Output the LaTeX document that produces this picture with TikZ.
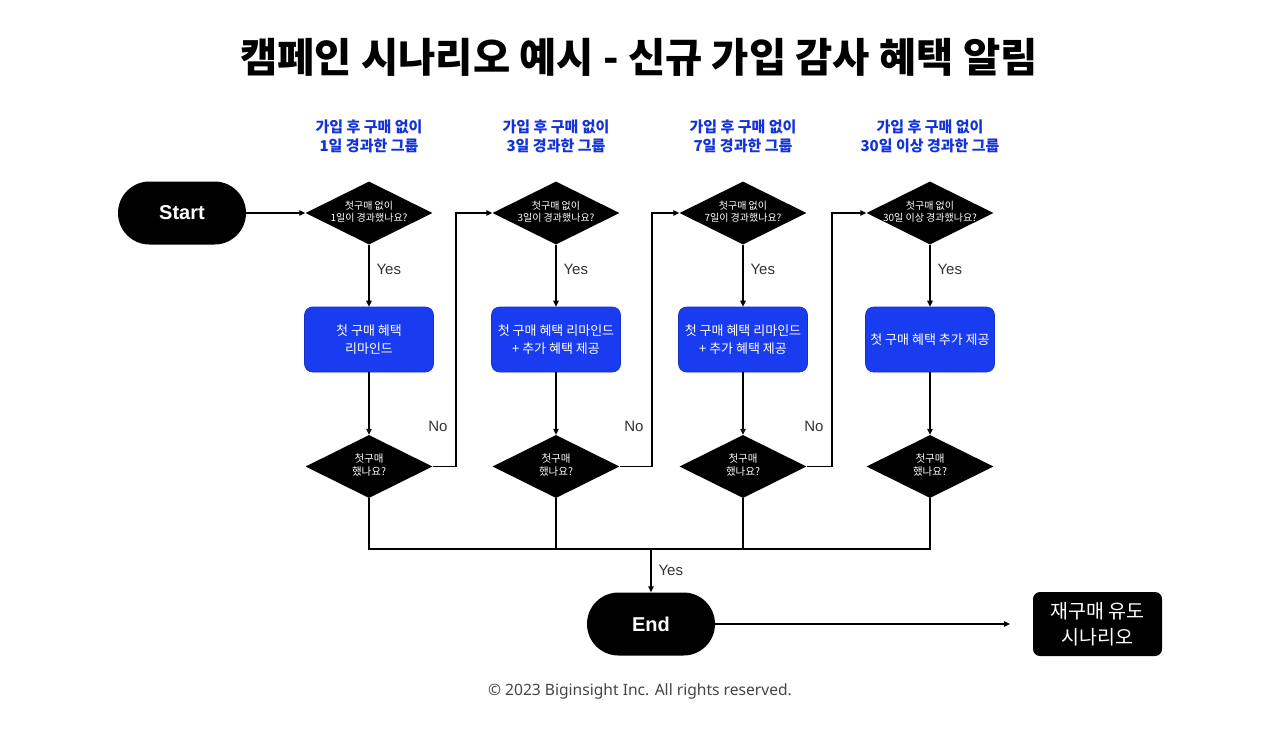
\documentclass[tikz,border=0pt]{standalone}
\usepackage{fontspec}
\setmainfont{Liberation Sans}
\newfontfamily\kr{Noto Sans CJK KR}
\newfontfamily\footfont{Noto Sans}
\usetikzlibrary{shapes.geometric,arrows.meta,calc}
\definecolor{boxblue}{HTML}{1A3CF0}
\definecolor{boxedge}{HTML}{1230C8}
\definecolor{labblue}{HTML}{1433D6}
\definecolor{lblgray}{HTML}{333333}
\definecolor{footgray}{HTML}{444444}
\newcommand\twoline[2]{\makebox[0pt]{\begin{tabular}{@{}c@{}}#1\\#2\end{tabular}}}
\tikzset{
  pill/.style={rectangle, rounded corners=31.5pt, fill=black, minimum width=128pt, minimum height=63pt, inner sep=0pt, text=white, font=\fontsize{20}{24}\selectfont\bfseries},
  qdia/.style={diamond, fill=black, minimum width=127pt, minimum height=63pt, inner sep=0pt, text=white, font=\kr\fontsize{10}{12}\selectfont},
  qdiab/.style={qdia, font=\kr\fontsize{10.5}{12}\selectfont},
  actbox/.style={rectangle, rounded corners=8pt, fill=boxblue, draw=boxedge, line width=0.6pt, minimum width=129pt, minimum height=65pt, inner sep=0pt, text=white, align=center, font=\kr\fontsize{13}{18}\selectfont},
  grplab/.style={text=labblue, align=center, font=\kr\bfseries\fontsize{15}{19}\selectfont},
  conn/.style={line width=1.1pt, draw=black},
  arr/.style={conn, -{Triangle[length=6pt,width=5.5pt]}},
  yn/.style={text=lblgray, font=\fontsize{15}{18}\selectfont, inner sep=0pt},
}
\begin{document}
\begin{tikzpicture}[x=1pt,y=-1pt]
\useasboundingbox (0,0) rectangle (1280,737);
\node[font=\kr\bfseries\fontsize{40.5}{46}\selectfont] (title) at (639,57) {캠페인 시나리오 예시 - 신규 가입 감사 혜택 알림};

\node[grplab] (g1) at (369,136) {가입 후 구매 없이\\1일 경과한 그룹};
\node[grplab] (g2) at (556,136) {가입 후 구매 없이\\3일 경과한 그룹};
\node[grplab] (g3) at (743,136) {가입 후 구매 없이\\7일 경과한 그룹};
\node[grplab] (g4) at (930,136) {가입 후 구매 없이\\30일 이상 경과한 그룹};

\node[pill] (start) at (182,213) {Start};

\node[qdia] (d1) at (369,213) {\twoline{첫구매 없이}{1일이 경과했나요?}};
\node[qdia] (d2) at (556,213) {\twoline{첫구매 없이}{3일이 경과했나요?}};
\node[qdia] (d3) at (743,213) {\twoline{첫구매 없이}{7일이 경과했나요?}};
\node[qdia] (d4) at (930,213) {\twoline{첫구매 없이}{30일 이상 경과했나요?}};

\node[actbox] (b1) at (369,339.5) {첫 구매 혜택\\리마인드};
\node[actbox] (b2) at (556,339.5) {첫 구매 혜택 리마인드\\+ 추가 혜택 제공};
\node[actbox] (b3) at (743,339.5) {첫 구매 혜택 리마인드\\+ 추가 혜택 제공};
\node[actbox] (b4) at (930,339.5) {첫 구매 혜택 추가 제공};

\node[qdiab] (q1) at (369,466.5) {\twoline{첫구매}{했나요?}};
\node[qdiab] (q2) at (556,466.5) {\twoline{첫구매}{했나요?}};
\node[qdiab] (q3) at (743,466.5) {\twoline{첫구매}{했나요?}};
\node[qdiab] (q4) at (930,466.5) {\twoline{첫구매}{했나요?}};

\node[pill] (end) at (651,624) {End};
\node[rectangle, rounded corners=7pt, fill=black, minimum width=129pt, minimum height=64pt, inner sep=0pt, text=white, align=center, font=\kr\fontsize{19.5}{26}\selectfont] (next) at (1097.5,624) {재구매 유도\\시나리오};

\node[text=footgray, font=\footfont\fontsize{15.6}{18}\selectfont] (foot) at (640,691) {© 2023 Biginsight Inc. All rights reserved.};

\coordinate (k1) at (456,0);
\coordinate (k2) at (652,0);
\coordinate (k3) at (832,0);
\coordinate (bus) at (651,549);
\coordinate (tgt) at (1010,624);

\draw[arr] (start) -- (d1.west);
\foreach \i in {1,2,3,4}{
  \draw[arr] (d\i.south) -- node[yn, pos=0.4, right=7pt] (yes\i) {Yes} (b\i.north);
  \draw[arr] (b\i.south) -- (q\i.north);
}
\draw[arr] (q1.east) -- (q1.east -| k1) -- node[yn, pos=0.16, left=8pt] (no1) {No} (k1 |- d2.west) -- (d2.west);
\draw[arr] (q2.east) -- (q2.east -| k2) -- node[yn, pos=0.16, left=8pt] (no2) {No} (k2 |- d3.west) -- (d3.west);
\draw[arr] (q3.east) -- (q3.east -| k3) -- node[yn, pos=0.16, left=8pt] (no3) {No} (k3 |- d4.west) -- (d4.west);

\draw[conn] (q1.south) |- (bus) -| (q4.south);
\draw[conn] (q2.south) -- (q2.south |- bus);
\draw[conn] (q3.south) -- (q3.south |- bus);
\draw[arr] (bus) -- node[yn, pos=0.5, right=7pt] (yes5) {Yes} (end.north);
\draw[arr] (end.east) -- (tgt);
\end{tikzpicture}
\end{document}
